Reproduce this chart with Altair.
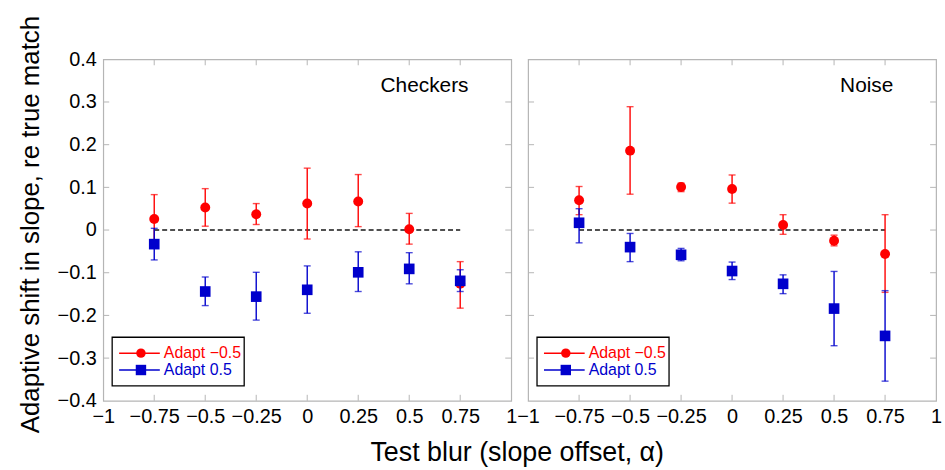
import altair as alt
import pandas as pd

# ---------------- data ----------------
X_VALUES = [-0.75, -0.5, -0.25, 0, 0.25, 0.5, 0.75]

CHECKERS_RED_Y = [0.026, 0.053, 0.037, 0.062, 0.067, 0.002, -0.126]
CHECKERS_RED_LO = [-0.030, 0.009, 0.013, -0.021, 0.008, -0.033, -0.183]
CHECKERS_RED_HI = [0.083, 0.097, 0.062, 0.145, 0.130, 0.039, -0.074]
CHECKERS_BLUE_Y = [-0.033, -0.144, -0.156, -0.140, -0.099, -0.091, -0.119]
CHECKERS_BLUE_LO = [-0.070, -0.177, -0.211, -0.195, -0.144, -0.126, -0.144]
CHECKERS_BLUE_HI = [0.004, -0.110, -0.099, -0.084, -0.051, -0.053, -0.093]

NOISE_RED_Y = [0.070, 0.186, 0.101, 0.096, 0.012, -0.025, -0.056]
NOISE_RED_LO = [0.036, 0.084, 0.090, 0.063, -0.010, -0.037, -0.146]
NOISE_RED_HI = [0.102, 0.289, 0.110, 0.129, 0.036, -0.012, 0.036]
NOISE_BLUE_Y = [0.017, -0.040, -0.058, -0.096, -0.126, -0.184, -0.248]
NOISE_BLUE_LO = [-0.030, -0.074, -0.072, -0.116, -0.149, -0.271, -0.354]
NOISE_BLUE_HI = [0.050, -0.008, -0.043, -0.075, -0.105, -0.097, -0.142]

SERIES_NAMES = ["Adapt \u22120.5", "Adapt 0.5"]
PANEL_NAMES = ["Checkers", "Noise"]

X_TICKS = [-1, -0.75, -0.5, -0.25, 0, 0.25, 0.5, 0.75, 1]
Y_TICKS = [-0.4, -0.3, -0.2, -0.1, 0, 0.1, 0.2, 0.3, 0.4]
X_INNER_TICKS = [-0.75, -0.5, -0.25, 0, 0.25, 0.5, 0.75]
Y_INNER_TICKS = [-0.3, -0.2, -0.1, 0, 0.1, 0.2, 0.3]
REF_LINE = {"x": [-0.75], "x2": [0.75], "y": [0.0]}

# ---------------- styling ----------------
FONT = "Liberation Sans"
RED = "#ff0000"
BLUE = "#0000cc"
FRAME = "#b5b5b5"
W, H = 411, 344

LABEL_EXPR = "datum.value == 0 ? '0' : replace(toString(datum.value), '-', '\u2212')"


def xs(field, axis=alt.Undefined):
    return alt.X(field, type="quantitative",
                 scale=alt.Scale(domain=[-1, 1], nice=False, zero=False),
                 axis=axis)


def ys(field, axis=alt.Undefined):
    return alt.Y(field, type="quantitative",
                 scale=alt.Scale(domain=[-0.4, 0.4], nice=False, zero=False),
                 axis=axis)


def make_df(yv, lo, hi):
    return pd.DataFrame({"x": X_VALUES, "y": yv, "lo": lo, "hi": hi})


def series_layers(df, color, shape, size):
    bars = alt.Chart(df).mark_rule(color=color, strokeWidth=1.4).encode(
        x=xs("x"), y=ys("lo"), y2="hi")
    cap_hi = alt.Chart(df).mark_tick(color=color, orient="horizontal",
                                     size=7, thickness=1.4).encode(x=xs("x"), y=ys("hi"))
    cap_lo = alt.Chart(df).mark_tick(color=color, orient="horizontal",
                                     size=7, thickness=1.4).encode(x=xs("x"), y=ys("lo"))
    pts = alt.Chart(df).mark_point(shape=shape, filled=True, opacity=1,
                                   color=color, size=size).encode(x=xs("x"), y=ys("y"))
    return [bars, cap_hi, cap_lo, pts]


def panel(title, red, blue, show_y):
    xaxis = alt.Axis(values=X_TICKS, labelExpr=LABEL_EXPR, title=None,
                     ticks=False, domain=False, grid=False,
                     labelFontSize=20, labelFont=FONT, labelColor="black",
                     labelPadding=6, labelOverlap=False, labelFlush=False,
                     labelBound=False)
    if show_y:
        yaxis = alt.Axis(values=Y_TICKS, labelExpr=LABEL_EXPR,
                         title="Adaptive shift in slope, re true match",
                         titleFont=FONT, titleFontSize=26, titleFontWeight="normal",
                         titleColor="black", titlePadding=14, titleY=166,
                         ticks=False, domain=False, grid=False,
                         labelFontSize=20, labelFont=FONT, labelColor="black",
                         labelPadding=7, labelOverlap=False, labelFlush=False)
    else:
        yaxis = alt.Axis(values=Y_TICKS, labels=False, title=None, ticks=False,
                         domain=False, grid=False)

    # base (invisible) layer carrying the axes
    base = alt.Chart(pd.DataFrame({"x": X_TICKS[:1], "y": Y_TICKS[:1]})).mark_point(
        opacity=0).encode(x=xs("x", xaxis), y=ys("y", yaxis))

    xt = pd.DataFrame({"t": X_INNER_TICKS})
    yt = pd.DataFrame({"t": Y_INNER_TICKS})
    tick_top = alt.Chart(xt).mark_rule(color=FRAME, strokeWidth=1).encode(
        x=xs("t"), y=alt.value(0), y2=alt.value(6))
    tick_bot = alt.Chart(xt).mark_rule(color=FRAME, strokeWidth=1).encode(
        x=xs("t"), y=alt.value(H), y2=alt.value(H - 6))
    tick_left = alt.Chart(yt).mark_rule(color=FRAME, strokeWidth=1).encode(
        y=ys("t"), x=alt.value(0), x2=alt.value(6))
    tick_right = alt.Chart(yt).mark_rule(color=FRAME, strokeWidth=1).encode(
        y=ys("t"), x=alt.value(W), x2=alt.value(W - 6))

    ref = alt.Chart(pd.DataFrame(REF_LINE)).mark_rule(
        color="#505050", strokeWidth=2, strokeDash=[5, 3]).encode(
        x=xs("x"), x2="x2", y=ys("y"))

    label = alt.Chart(pd.DataFrame({"t": [title]})).mark_text(
        font=FONT, fontSize=21, color="black", align="right", baseline="middle").encode(
        text="t:N", x=alt.value(W - 43), y=alt.value(27))

    # legend box
    one = pd.DataFrame({"a": [0]})
    box = alt.Chart(one).mark_rect(fill="white", stroke="black", strokeWidth=1.3).encode(
        x=alt.value(9), x2=alt.value(142), y=alt.value(280), y2=alt.value(329))
    leg = [box]
    for name, color, shape, size, yy in [
        (SERIES_NAMES[0], RED, "circle", 90, 296),
        (SERIES_NAMES[1], BLUE, "square", 110, 313),
    ]:
        leg.append(alt.Chart(one).mark_rule(color=color, strokeWidth=1.5).encode(
            x=alt.value(16), x2=alt.value(57), y=alt.value(yy)))
        leg.append(alt.Chart(one).mark_point(shape=shape, filled=True, opacity=1,
                                             color=color, size=size).encode(
            x=alt.value(38), y=alt.value(yy)))
        leg.append(alt.Chart(pd.DataFrame({"t": [name]})).mark_text(
            font=FONT, fontSize=16, color=color, align="left", baseline="middle").encode(
            text="t:N", x=alt.value(61), y=alt.value(yy)))

    layers = [base, tick_top, tick_bot, tick_left, tick_right, ref]
    layers += series_layers(red, RED, "circle", 100)
    layers += series_layers(blue, BLUE, "square", 115)
    layers += [label] + leg
    return alt.layer(*layers).properties(width=W, height=H)


left = panel(PANEL_NAMES[0],
             make_df(CHECKERS_RED_Y, CHECKERS_RED_LO, CHECKERS_RED_HI),
             make_df(CHECKERS_BLUE_Y, CHECKERS_BLUE_LO, CHECKERS_BLUE_HI), True)
right = panel(PANEL_NAMES[1],
              make_df(NOISE_RED_Y, NOISE_RED_LO, NOISE_RED_HI),
              make_df(NOISE_BLUE_Y, NOISE_BLUE_LO, NOISE_BLUE_HI), False)

chart = alt.hconcat(left, right, spacing=17, bounds="flush").properties(
    title=alt.TitleParams("Test blur (slope offset, \u03b1)", orient="bottom",
                          anchor="middle", font=FONT, fontSize=27,
                          fontWeight="normal", color="black", offset=7, dx=38),
    padding={"left": 16, "top": 13, "right": 2, "bottom": 4},
    background="white",
).configure_view(stroke=FRAME, strokeWidth=1.2)

chart.save("out.html", embed_options={"renderer": "svg", "actions": False})
